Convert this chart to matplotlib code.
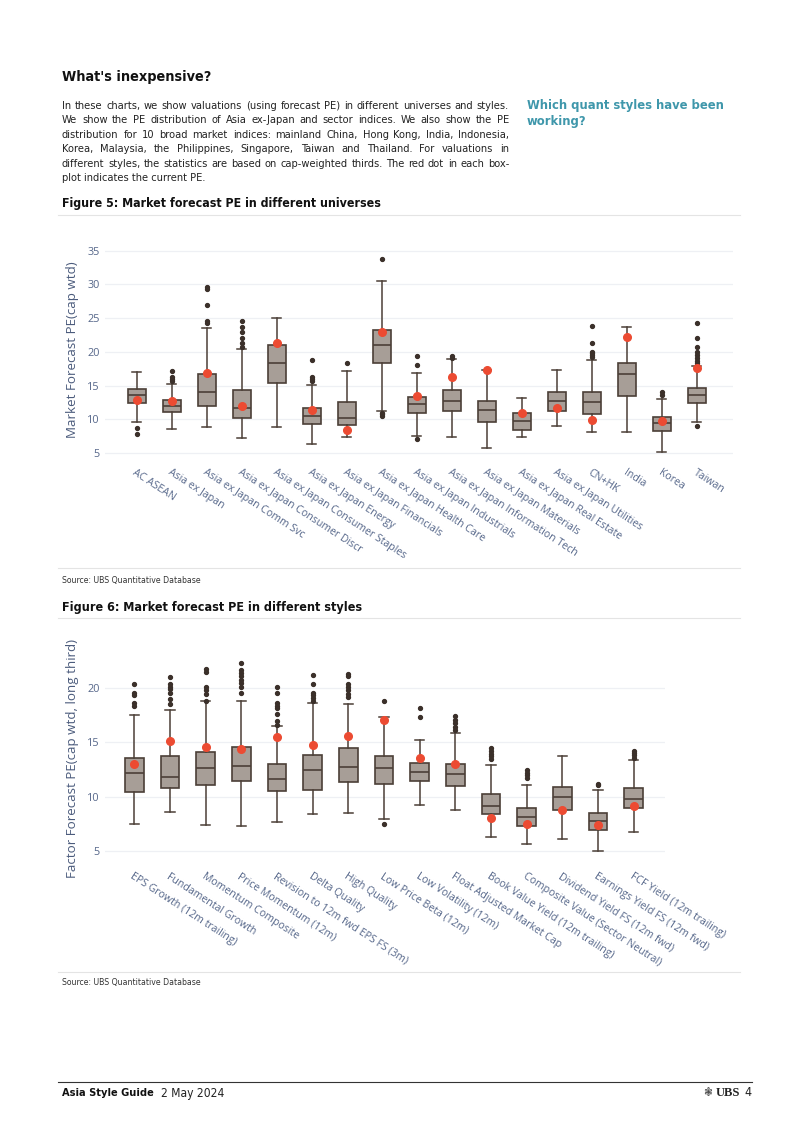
import numpy as np
import matplotlib
matplotlib.use('Agg')
import matplotlib.pyplot as plt
from matplotlib import font_manager

W, H = 802, 1134

# ---------------- data: Figure 5 (universes) ----------------
univ_labels = ['AC ASEAN', 'Asia ex Japan', 'Asia ex Japan Comm Svc', 'Asia ex Japan Consumer Discr',
               'Asia ex Japan Consumer Staples', 'Asia ex Japan Energy', 'Asia ex Japan Financials',
               'Asia ex Japan Health Care', 'Asia ex Japan Industrials', 'Asia ex Japan Information Tech',
               'Asia ex Japan Materials', 'Asia ex Japan Real Estate', 'Asia ex Japan Utilities',
               'CN+HK', 'India', 'Korea', 'Taiwan']
univ_lo  = [9.7, 8.55, 8.9, 7.3, 8.9, 6.3, 7.4, 11.3, 7.6, 7.4, 5.75, 7.4, 9.05, 8.1, 8.2, 5.25, 9.7]
univ_q1  = [12.4, 11.1, 11.95, 10.2, 15.4, 9.3, 9.15, 18.4, 10.9, 11.3, 9.65, 8.5, 11.3, 10.8, 13.45, 8.25, 12.45]
univ_med = [13.6, 12.05, 14.0, 11.75, 18.3, 10.5, 10.2, 21.1, 12.35, 12.8, 11.4, 9.8, 12.75, 12.65, 16.7, 9.45, 13.6]
univ_q3  = [14.45, 12.95, 16.7, 14.3, 21.1, 11.7, 12.55, 23.3, 13.3, 14.35, 12.75, 10.95, 14.0, 14.05, 18.4, 10.35, 14.65]
univ_hi  = [17.0, 15.3, 23.6, 20.4, 25.0, 15.15, 17.2, 30.45, 16.85, 18.9, 17.35, 13.15, 17.35, 18.8, 23.75, 13.05, 17.95]
univ_now = [12.9, 12.8, 16.85, 12.0, 21.3, 11.4, 8.4, 22.9, 13.45, 16.25, 17.35, 11.0, 11.75, 9.9, 22.15, 9.8, 17.6]
univ_out = [[8.7, 7.85], [17.2, 16.35, 16.0, 15.75], [29.6, 29.3, 26.9, 24.6, 24.3],
            [24.6, 23.7, 22.9, 22.0, 21.3, 20.7], [], [18.75, 16.35, 16.0, 15.75], [18.4],
            [33.7, 11.0, 10.75, 10.45], [19.4, 18.0, 7.1], [19.4, 19.15], [], [], [],
            [23.8, 21.4, 20.0, 19.8, 19.55, 19.2], [], [14.0, 13.7],
            [24.25, 22.0, 20.7, 20.05, 19.55, 19.05, 18.65, 18.3, 9.1]]

# ---------------- data: Figure 6 (styles) ----------------
style_labels = ['EPS Growth (12m trailing)', 'Fundamental Growth', 'Momentum Composite',
                'Price Momentum (12m)', 'Revision to 12m fwd EPS FS (3m)', 'Delta Quality',
                'High Quality', 'Low Price Beta (12m)', 'Low Volatility (12m)',
                'Float Adjusted Market Cap', 'Book Value Yield (12m trailing)',
                'Composite Value (Sector Neutral)', 'Dividend Yield FS (12m fwd)',
                'Earnings Yield FS (12m fwd)', 'FCF Yield (12m trailing)']
style_lo  = [7.45, 8.55, 7.35, 7.3, 7.65, 8.4, 8.45, 7.9, 9.25, 8.8, 6.25, 5.6, 6.1, 5.0, 6.7]
style_q1  = [10.45, 10.75, 11.05, 11.45, 10.55, 10.6, 11.3, 11.2, 11.4, 11.0, 8.35, 7.3, 8.75, 6.95, 8.95]
style_med = [12.2, 11.85, 12.6, 12.8, 11.65, 12.45, 12.75, 12.65, 12.3, 12.1, 9.15, 8.15, 9.95, 7.75, 9.8]
style_q3  = [13.55, 13.7, 14.15, 14.55, 13.0, 13.85, 14.45, 13.7, 13.1, 13.0, 10.25, 8.9, 10.85, 8.5, 10.8]
style_hi  = [17.55, 18.0, 18.8, 18.85, 16.5, 18.6, 18.5, 17.3, 15.2, 15.9, 12.9, 11.1, 13.75, 10.65, 13.4]
style_now = [13.0, 15.15, 14.55, 14.4, 15.5, 14.75, 15.55, 17.05, 13.55, 13.0, 8.0, 7.45, 8.75, 7.4, 9.15]
style_out = [[20.4, 19.6, 19.35, 18.6, 18.35], [21.0, 20.4, 20.15, 19.9, 19.6, 19.0, 18.5],
             [21.75, 21.5, 20.15, 19.85, 19.5, 18.85],
             [22.35, 21.7, 21.4, 21.1, 20.8, 20.5, 20.1, 19.6],
             [20.1, 19.6, 18.6, 18.4, 18.2, 17.6, 17.0, 16.6],
             [21.2, 20.4, 19.6, 19.35, 19.1, 18.85],
             [21.3, 21.1, 20.4, 20.1, 19.8, 19.5, 19.2], [18.85, 7.45],
             [18.15, 17.3], [17.4, 17.05, 16.75, 16.45, 16.15],
             [14.45, 14.2, 13.95, 13.7, 13.45], [12.45, 12.2, 11.95, 11.7], [],
             [11.2, 11.05], [14.2, 14.0, 13.8, 13.55]]

body = ["In these charts, we show valuations (using forecast PE) in different universes and styles.",
        "We show the PE distribution of Asia ex-Japan and sector indices. We also show the PE",
        "distribution for 10 broad market indices: mainland China, Hong Kong, India, Indonesia,",
        "Korea, Malaysia, the Philippines, Singapore, Taiwan and Thailand. For valuations in",
        "different styles, the statistics are based on cap-weighted thirds. The red dot in each box-",
        "plot indicates the current PE."]

BOX_FILL = '#a79e97'
BOX_EDGE = '#4b3f37'
RED = '#ec4b32'
TICK_COL = '#56678a'
LABEL_COL = '#4b5b7c'
GRID_COL = '#eef0f4'

# pick a narrow face for the report text if one is installed
names = set((f.name, f.stretch) for f in font_manager.fontManager.ttflist)
body_stretch = 'normal'
if any(n == 'Liberation Sans Narrow' for n, s in names):
    body_font = ['Liberation Sans Narrow', 'DejaVu Sans']
elif ('DejaVu Sans', 'condensed') in names or ('DejaVu Sans', 'semi-condensed') in names:
    body_font = ['DejaVu Sans']
    body_stretch = 'condensed'
else:
    body_font = ['Lato', 'DejaVu Sans']
chart_font = ['Open Sans', 'DejaVu Sans']

fig = plt.figure(figsize=(W / 100, H / 100), dpi=100)
fig.patch.set_facecolor('white')
renderer = fig.canvas.get_renderer()


def px_axes(x0, y0, x1, y1):
    return fig.add_axes([x0 / W, 1 - y1 / H, (x1 - x0) / W, (y1 - y0) / H])


def ftext(x, y, s, **kw):
    kw.setdefault('family', body_font)
    kw.setdefault('fontstretch', body_stretch)
    kw.setdefault('va', 'center')
    return fig.text(x / W, 1 - y / H, s, **kw)


def fit_text(x, y, s, width, size, **kw):
    # shrink the text until it spans at most the given width
    t = ftext(x, y, s, fontsize=size, **kw)
    w = t.get_window_extent(renderer).width
    if w > width:
        t.set_fontsize(size * width / w)
    return t


def hline(x0, x1, y, color, lw):
    fig.add_artist(plt.Line2D([x0 / W, x1 / W], [1 - y / H, 1 - y / H], color=color, lw=lw))


def boxchart(ax, labels, lo, q1, med, q3, hi, now, out, ylim, yticks, ylabel, xpad):
    stats = []
    for i in range(len(labels)):
        stats.append(dict(whislo=lo[i], q1=q1[i], med=med[i], q3=q3[i], whishi=hi[i],
                          fliers=out[i], label=labels[i]))
    pos = np.arange(len(labels))
    ax.bxp(stats, positions=pos, widths=0.52, patch_artist=True, showfliers=True,
           boxprops=dict(facecolor=BOX_FILL, edgecolor=BOX_EDGE, linewidth=1.2),
           medianprops=dict(color=BOX_EDGE, linewidth=1.2),
           whiskerprops=dict(color=BOX_EDGE, linewidth=1.1),
           capprops=dict(color=BOX_EDGE, linewidth=1.1),
           flierprops=dict(marker='o', markersize=2.8, markerfacecolor='#3b302a',
                           markeredgecolor='#3b302a'),
           zorder=3)
    ax.plot(pos, now, 'o', color=RED, markersize=5.5, zorder=5, linestyle='none')
    ax.set_ylim(*ylim)
    ax.set_yticks(yticks)
    ax.set_yticklabels([str(t) for t in yticks], fontsize=7.8, color=TICK_COL, family=chart_font)
    ax.set_xticks(pos)
    ax.set_xticklabels(labels, rotation=-33, ha='left', va='top', rotation_mode='anchor',
                       fontsize=7.6, color=TICK_COL, family=chart_font)
    ax.tick_params(axis='both', length=0)
    ax.tick_params(axis='y', pad=4)
    ax.tick_params(axis='x', pad=xpad)
    ax.grid(axis='y', color=GRID_COL, lw=0.9)
    ax.set_axisbelow(True)
    for s in ax.spines.values():
        s.set_visible(False)
    ax.set_ylabel(ylabel, fontsize=9.6, color=LABEL_COL, family=chart_font, labelpad=6)


# ---------------- Figure 5 ----------------
ax5 = px_axes(105, 239.9, 733, 460.0)
boxchart(ax5, univ_labels, univ_lo, univ_q1, univ_med, univ_q3, univ_hi, univ_now, univ_out,
         (4.0, 36.6), [5, 10, 15, 20, 25, 30, 35], 'Market Forecast PE(cap wtd)', 5)
ax5.set_xlim(-0.91, 17.03)

# ---------------- Figure 6 ----------------
ax6 = px_axes(105, 657.9, 665, 858.3)
boxchart(ax6, style_labels, style_lo, style_q1, style_med, style_q3, style_hi, style_now, style_out,
         (4.3, 22.8), [5, 10, 15, 20], 'Factor Forecast PE(cap wtd, long third)', 9)
ax6.set_xlim(-0.82, 14.88)

# ---------------- page text ----------------
fit_text(62, 77, "What's inexpensive?", 150, 12.5, fontweight='bold', color='#111111')

# body size: make the widest full line fit the 447 px column
probe = [ftext(0, -50, line, fontsize=9) for line in body]
widest = max(p.get_window_extent(renderer).width for p in probe)
for p in probe:
    p.remove()
body_size = min(9.5, 9 * 440 / widest)

for k, line in enumerate(body):
    y = 106 + k * 14.45
    if k == len(body) - 1:
        ftext(62, y, line, fontsize=body_size, color='#222222')
        continue
    words = line.split(' ')
    texts = [ftext(0, y, w, fontsize=body_size, color='#222222') for w in words]
    widths = [t.get_window_extent(renderer).width for t in texts]
    gap = (509 - 62 - sum(widths)) / (len(words) - 1)
    xpos = 62
    for t, w in zip(texts, widths):
        t.set_x(xpos / W)
        xpos += w + gap

fit_text(527, 106, 'Which quant styles have been', 200, 9.3, fontweight='bold', color='#3f97ab')
fit_text(527, 121, 'working?', 70, 9.3, fontweight='bold', color='#3f97ab')

fit_text(62, 203, 'Figure 5: Market forecast PE in different universes', 320, 9,
         fontweight='bold', color='#111111')
hline(58, 740, 215, '#e4e4e4', 0.8)
hline(58, 740, 568, '#e4e4e4', 0.8)
fit_text(62, 580, 'Source: UBS Quantitative Database', 139, 7, color='#333333')

fit_text(62, 607, 'Figure 6: Market forecast PE in different styles', 300, 9,
         fontweight='bold', color='#111111')
hline(58, 740, 618, '#e4e4e4', 0.8)
hline(58, 740, 972, '#e4e4e4', 0.8)
fit_text(62, 983, 'Source: UBS Quantitative Database', 139, 7, color='#333333')

# ---------------- footer ----------------
hline(58, 752, 1082, '#333333', 0.8)
t_guide = fit_text(62, 1093, 'Asia Style Guide', 92, 9, fontweight='bold', color='#111111')
gx = 62 + t_guide.get_window_extent(renderer).width + 7
fit_text(gx, 1093, '2 May 2024', 64, 9, color='#222222')
ftext(752, 1093, '4', fontsize=9, ha='right', color='#222222')
ftext(740, 1093, 'UBS', fontsize=9, fontweight='bold', family=['Liberation Serif', 'DejaVu Serif'],
      ha='right', color='#222222')
ftext(712, 1093, '\u2743', fontsize=8.5, family=['DejaVu Sans'], ha='right', color='#444444')

fig.savefig('out.png', dpi=100, facecolor='white')
